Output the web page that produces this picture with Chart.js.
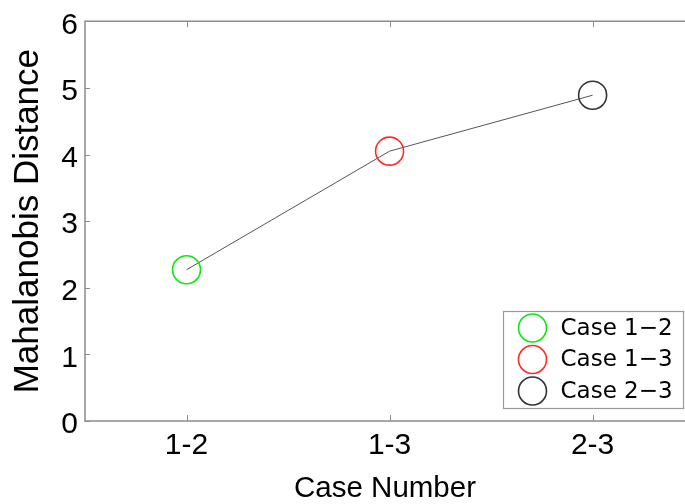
<!DOCTYPE html>
<html>
<head>
<meta charset="utf-8">
<script src="https://cdn.jsdelivr.net/npm/chart.js@4/dist/chart.umd.min.js"></script>
<style>
  html, body { margin: 0; padding: 0; background: #fff; overflow: hidden; }
  canvas { display: block; }
</style>
</head>
<body>
<canvas id="c" width="685" height="504"></canvas>
<script>
// Pairwise case comparison: Mahalanobis distance per case pair
const categories = ['1-2', '1-3', '2-3'];
const distances = [2.27, 4.05, 4.89];
const caseLabels = ['Case 1\u22122', 'Case 1\u22123', 'Case 2\u22123'];
const markerColors = ['#12e612', '#ff2b2b', '#333333'];
const yTicks = [0, 1, 2, 3, 4, 5, 6];

const axisFont = "'Liberation Sans', Arial, sans-serif";
const legendFont = "'DejaVu Sans', sans-serif";
const frameColor = '#8c8c8c';

// categories sit on integer positions; the plot box is cut at the right edge
const xMin = -0.5, xMax = 2.455;

// one dataset per pair so every marker carries its own colour and legend entry
const markerSets = categories.map((c, i) => ({
  type: 'line',
  label: caseLabels[i],
  data: [{ x: i, y: distances[i] }],
  showLine: false,
  pointRadius: 14,
  pointHoverRadius: 14,
  pointBorderWidth: 1.6,
  pointBorderColor: markerColors[i],
  pointBackgroundColor: 'rgba(0,0,0,0)'
}));

const connectingLine = {
  type: 'line',
  label: '',
  data: distances.map((v, i) => ({ x: i, y: v })),
  borderColor: '#555555',
  borderWidth: 1,
  pointRadius: 0,
  fill: false,
  tension: 0
};

// open frame (left, top, bottom) with inward tick marks
const framePlugin = {
  id: 'frame',
  beforeDatasetsDraw(chart) {
    const { ctx, chartArea: a, scales: { x, y } } = chart;
    ctx.save();
    ctx.strokeStyle = frameColor;
    ctx.lineWidth = 1.5;
    ctx.beginPath();
    ctx.moveTo(a.right + 2, a.top);
    ctx.lineTo(a.left, a.top);
    ctx.lineTo(a.left, a.bottom);
    ctx.lineTo(a.right + 2, a.bottom);
    ctx.stroke();
    ctx.lineWidth = 1;
    ctx.beginPath();
    categories.forEach((_, i) => {
      const px = Math.round(x.getPixelForValue(i)) + 0.5;
      ctx.moveTo(px, a.bottom); ctx.lineTo(px, a.bottom - 6);
      ctx.moveTo(px, a.top); ctx.lineTo(px, a.top + 6);
    });
    yTicks.forEach(v => {
      const py = Math.round(y.getPixelForValue(v)) + 0.5;
      ctx.moveTo(a.left, py); ctx.lineTo(a.left + 5, py);
    });
    ctx.stroke();
    ctx.restore();
  }
};

// boxed legend in the lower right corner of the plot
const boxLegendPlugin = {
  id: 'boxLegend',
  afterDraw(chart) {
    const { ctx, chartArea: a } = chart;
    const right = a.right - 1.5, bottom = a.bottom - 13;
    const w = 180, h = 97;
    const left = right - w, top = bottom - h;
    ctx.save();
    ctx.fillStyle = '#ffffff';
    ctx.fillRect(left, top, w, h);
    ctx.strokeStyle = '#9a9a9a';
    ctx.lineWidth = 1.2;
    ctx.strokeRect(left, top + 0.5, w, h);
    ctx.font = '23px ' + legendFont;
    ctx.textBaseline = 'middle';
    ctx.textAlign = 'left';
    markerSets.forEach((ds, i) => {
      const cy = top + 17 + i * 31.5;
      ctx.beginPath();
      ctx.arc(left + 29, cy, 14, 0, Math.PI * 2);
      ctx.strokeStyle = ds.pointBorderColor;
      ctx.lineWidth = 1.6;
      ctx.stroke();
      ctx.fillStyle = '#000';
      ctx.fillText(ds.label, left + 57, cy + 1);
    });
    ctx.restore();
  }
};

new Chart(document.getElementById('c'), {
  data: {
    datasets: [...markerSets, connectingLine]
  },
  options: {
    responsive: false,
    animation: false,
    devicePixelRatio: 1,
    layout: { autoPadding: false, padding: { top: 15, right: 0, left: 0, bottom: 0 } },
    plugins: { legend: { display: false }, tooltip: { enabled: false } },
    scales: {
      x: {
        type: 'linear',
        min: xMin, max: xMax,
        afterBuildTicks(s) { s.ticks = categories.map((_, i) => ({ value: i })); },
        grid: { display: false, drawTicks: false },
        border: { display: false },
        ticks: {
          color: '#000', padding: 10, maxRotation: 0, autoSkip: false,
          callback: v => categories[v],
          font: { family: axisFont, size: 30, lineHeight: 1 }
        },
        title: {
          display: true, text: 'Case Number', color: '#000', padding: 0,
          font: { family: axisFont, size: 29.5, lineHeight: 1 }
        },
        afterFit(s) { s.height = 83; }
      },
      y: {
        min: 0, max: 6,
        afterBuildTicks(s) { s.ticks = yTicks.map(v => ({ value: v })); },
        grid: { display: false, drawTicks: false },
        border: { display: false },
        ticks: {
          color: '#000', padding: 7, labelOffset: 4,
          font: { family: axisFont, size: 30, lineHeight: 0.95 }
        },
        title: {
          display: true, text: 'Mahalanobis Distance', color: '#000',
          padding: { top: 7, bottom: 0 },
          font: { family: axisFont, size: 35, lineHeight: 1.2 }
        },
        afterFit(s) { s.width = 85; }
      }
    }
  },
  plugins: [framePlugin, boxLegendPlugin]
});
</script>
</body>
</html>
